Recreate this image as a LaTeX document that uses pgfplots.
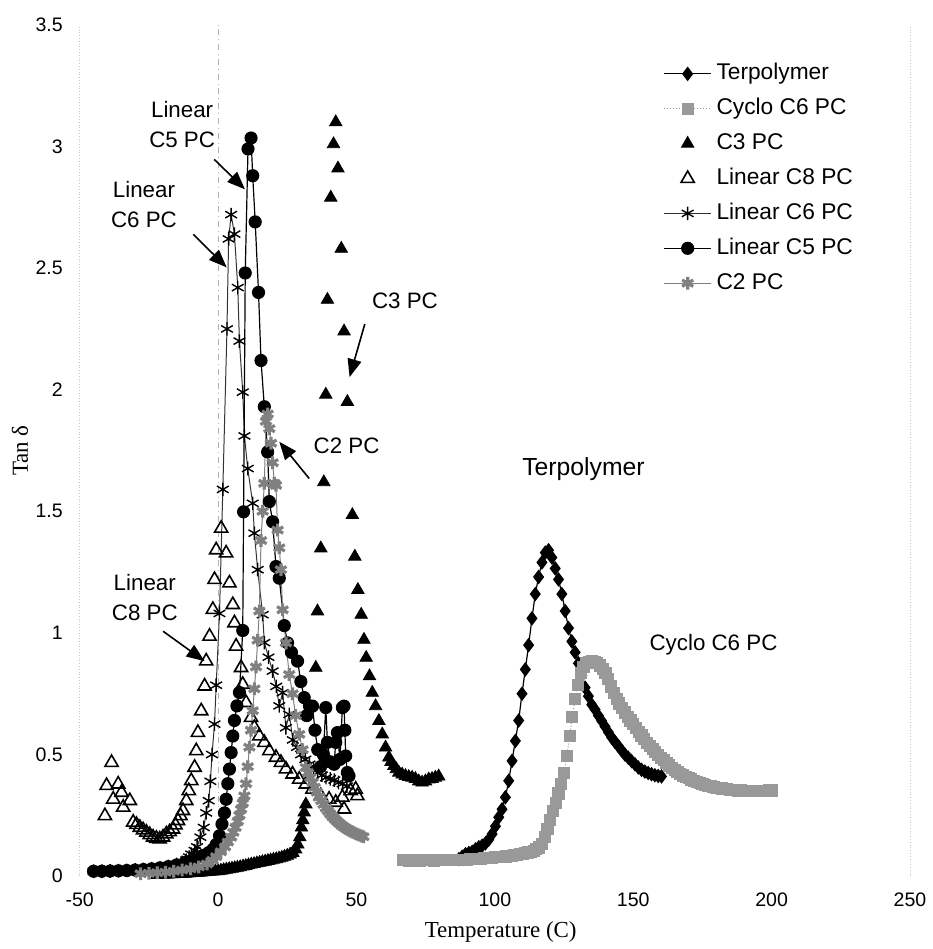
\documentclass[border=0pt]{standalone}
\usepackage{fontspec}
\setmainfont{Liberation Sans}
\newfontfamily\timesfont{Liberation Serif}
\usepackage{pgfplots}
\pgfplotsset{compat=1.18}
\usetikzlibrary{arrows.meta}

\newcommand\annfont{\fontsize{11.2}{15}\selectfont}

\begin{document}
\begin{tikzpicture}
\begin{axis}[
    scale only axis,
    width=416.5pt, height=427pt,
    xmin=-50, xmax=250, ymin=0, ymax=3.5,
    xtick={-50,0,...,250},
    ytick={0,0.5,...,3.5},
    axis line style={draw=none},
    tick style={draw=none},
    clip=false,
    /pgf/number format/assume math mode=true,
    tick label style={font=\fontsize{9.8}{11}\selectfont},
    yticklabel style={xshift=-5pt},
    xticklabel style={yshift=-5pt},
    legend image code/.code={\draw[mark repeat=2,mark phase=2,#1] plot coordinates {(0cm,0cm) (0.41cm,0cm) (0.82cm,0cm)};},
    legend cell align=left,
    legend style={at={(axis description cs:0.703,0.957)}, anchor=north west,
        draw=none, fill=none, inner sep=0pt, row sep=5.5pt,
        font=\fontsize{11.4}{13}\selectfont,
        nodes={inner xsep=2.5pt, inner ysep=0pt, text height=9pt, text depth=3pt}},
]

% frame and zero line
\draw[gray!45, densely dotted] (axis cs:-50,0) -- (axis cs:-50,3.5);
\draw[gray!45, densely dotted] (axis cs:250,0) -- (axis cs:250,3.5);
\draw[gray!60, dash dot, line width=0.5pt] (axis cs:0,0) -- (axis cs:0,3.5);

% Terpolymer
\addplot[black, line width=0.6pt, mark=diamond*, mark size=3.2pt, mark options={solid, fill=black}] coordinates {
(87.0,0.070)(88.2,0.080)(89.4,0.090)(90.6,0.095)(91.8,0.100)(93.0,0.110)(94.2,0.119)(95.4,0.125)
(96.6,0.135)(97.8,0.150)(99.0,0.173)(100.2,0.205)(101.4,0.242)(102.6,0.275)(103.8,0.324)(105.0,0.392)
(106.2,0.474)(107.4,0.556)(108.6,0.640)(109.8,0.750)(111.0,0.850)(112.2,0.950)(113.4,1.060)(114.6,1.160)
(115.8,1.230)(117.0,1.290)(118.2,1.330)(119.4,1.340)(120.6,1.310)(121.8,1.265)(123.0,1.220)(124.2,1.160)
(125.4,1.090)(126.6,1.020)(127.8,0.965)(129.0,0.920)(130.2,0.875)(131.4,0.825)(132.6,0.775)(133.8,0.740)
(135.0,0.705)(136.2,0.685)(137.4,0.660)(138.6,0.638)(139.8,0.615)(141.0,0.592)(142.2,0.570)(143.4,0.552)
(144.6,0.535)(145.8,0.517)(147.0,0.500)(148.2,0.487)(149.4,0.473)(150.6,0.460)(151.8,0.447)(153.0,0.437)
(154.2,0.430)(155.4,0.424)(156.6,0.419)(157.8,0.415)(159.0,0.412)(160.2,0.410)
};

% Cyclo C6 PC
\addplot[black!40, densely dotted, line width=0.5pt, mark=square*, mark size=2.8pt, mark options={solid, fill=black!40, draw=black!40}] coordinates {
(67,0.065)(68,0.066)(69,0.064)(70,0.065)(71,0.066)(72,0.065)(73,0.064)(74,0.065)(75,0.066)(76,0.065)
(77,0.065)(78,0.064)(79,0.065)(80,0.066)(81,0.065)(82,0.065)(83,0.066)(84,0.065)(85,0.066)(86,0.066)
(87,0.067)(88,0.067)(89,0.068)(90,0.068)(91,0.069)(92,0.070)(93,0.070)(94,0.071)(95,0.072)(96,0.073)
(97,0.074)(98,0.075)(99,0.076)(100,0.077)(101,0.078)(102,0.079)(103,0.080)(104,0.081)(105,0.083)(106,0.084)
(107,0.086)(108,0.088)(109,0.090)(110,0.092)(111,0.094)(112,0.097)(113,0.100)(114,0.104)(115,0.110)(116,0.118)
(117,0.132)(118,0.160)(119,0.195)(120,0.232)(121,0.268)(122,0.302)(123,0.340)(124,0.378)(125,0.425)(126,0.495)
(127,0.575)(128,0.655)(129,0.730)(130,0.785)(131,0.835)(132,0.860)(133,0.875)(134,0.882)(135,0.885)(136,0.882)
(137,0.876)(138,0.866)(139,0.852)(140,0.835)(141,0.810)(142,0.780)(143,0.752)(144,0.730)(145,0.710)(146,0.690)
(147,0.673)(148,0.656)(149,0.640)(150,0.625)(151,0.610)(152,0.594)(153,0.578)(154,0.563)(155,0.548)(156,0.535)
(157,0.522)(158,0.510)(159,0.498)(160,0.487)(161,0.476)(162,0.465)(163,0.455)(164,0.446)(165,0.437)(166,0.429)
(167,0.421)(168,0.414)(169,0.408)(170,0.402)(171,0.397)(172,0.392)(173,0.387)(174,0.383)(175,0.379)(176,0.375)
(177,0.372)(178,0.369)(179,0.366)(180,0.364)(181,0.362)(182,0.360)(183,0.358)(184,0.357)(185,0.355)(186,0.354)
(187,0.353)(188,0.352)(189,0.352)(190,0.351)(191,0.351)(192,0.350)(193,0.350)(194,0.350)(195,0.351)(196,0.351)
(197,0.351)(198,0.351)(199,0.352)(200,0.352)
};

% C3 PC
\addplot[only marks, black, mark=triangle*, mark size=3.6pt] coordinates {
(-22,0.005)(-21,0.006)(-20,0.006)(-19,0.007)(-18,0.007)(-17,0.008)(-16,0.008)(-15,0.009)(-14,0.009)(-13,0.010)
(-12,0.010)(-11,0.011)(-10,0.012)(-9,0.013)(-8,0.013)(-7,0.014)(-6,0.015)(-5,0.016)(-4,0.017)(-3,0.018)
(-2,0.019)(-1,0.020)(0,0.021)(1,0.023)(2,0.025)(3,0.027)(4,0.029)(5,0.031)(6,0.033)(7,0.035)
(8,0.037)(9,0.040)(10,0.042)(11,0.045)(12,0.048)(13,0.050)(14,0.053)(15,0.055)(16,0.058)(17,0.060)
(18,0.063)(19,0.065)(20,0.068)(21,0.070)(22,0.073)(23,0.076)(24,0.080)(25,0.084)(26,0.089)(27,0.096)
(28,0.110)(28.8,0.130)(29.5,0.160)(30.1,0.200)(30.6,0.230)(31.1,0.262)(31.7,0.295)
(35.3,0.857)(35.9,1.089)(37.1,1.348)(38.2,1.620)(38.9,1.980)(39.5,2.370)(40.7,2.790)(41.7,3.010)
(42.5,3.100)(43.3,2.910)(44.5,2.580)(45.5,2.240)(46.7,1.950)(48.5,1.485)(49.4,1.314)(50.5,1.177)
(51.7,1.075)(52.7,0.972)(53.5,0.898)(54.7,0.822)(55.7,0.754)(56.9,0.699)(58.1,0.638)(59.3,0.583)
(60.5,0.529)(61.7,0.488)(62.5,0.470)(63.5,0.453)(64.4,0.440)(65.3,0.426)(66.5,0.418)(67.7,0.412)
(68.9,0.408)(70.1,0.405)(71.3,0.400)(72.5,0.390)(73.7,0.385)(74.9,0.390)(76.1,0.398)(77.3,0.400)
(78.5,0.405)(79.7,0.410)
};

% Linear C8 PC
\addplot[only marks, black, mark=triangle, mark size=3.8pt, mark options={line width=0.8pt}] coordinates {
(-40.9,0.248)(-40.3,0.372)(-38.5,0.467)(-37.9,0.316)(-36.1,0.378)(-34.9,0.344)(-34.3,0.283)(-31.9,0.310)
(-30.7,0.221)(-29.5,0.212)(-28.3,0.200)(-27.1,0.190)(-25.9,0.180)(-24.7,0.170)(-23.5,0.160)(-22.3,0.155)
(-21.1,0.152)(-19.9,0.160)(-18.7,0.173)(-17.5,0.182)(-16.3,0.193)(-15.4,0.210)(-14.5,0.228)(-13.6,0.248)
(-12.7,0.269)(-11.5,0.310)(-10.6,0.351)(-9.7,0.392)(-8.5,0.447)(-7.9,0.515)(-7.3,0.590)(-6.1,0.679)
(-4.9,0.781)(-4.3,0.884)(-3.1,0.986)(-1.9,1.096)(-1.3,1.219)(-0.7,1.341)(1.1,1.430)(2.9,1.328)
(4.1,1.205)(5.3,1.116)(5.9,1.041)(6.5,0.945)(8.3,0.857)(8.9,0.788)(10.1,0.713)(11.9,0.652)
(13.1,0.611)(14.9,0.576)(16.7,0.549)(18.5,0.515)(20.9,0.488)(22.7,0.467)(24.5,0.440)(26.9,0.419)
(29.3,0.398)(31.7,0.378)(34.1,0.357)(37.1,0.330)(40.1,0.316)(42.5,0.303)(45.5,0.275)(44.9,0.324)
(47.9,0.351)(49.7,0.357)(50.3,0.330)
};

% Linear C6 PC
\addplot[black!80, line width=0.5pt, mark=asterisk, mark size=3.4pt, mark options={solid, black, line width=0.7pt}] coordinates {
(-45,0.020)(-42,0.020)(-39,0.021)(-36,0.022)(-33,0.024)(-30,0.026)(-27,0.028)(-24,0.031)(-21,0.035)
(-18,0.040)(-15,0.048)(-13,0.056)(-11.5,0.066)(-10.5,0.078)(-9.7,0.090)(-8.5,0.105)(-7.6,0.120)
(-6.4,0.160)(-5.2,0.200)(-4.3,0.260)(-3.4,0.310)(-2.8,0.390)(-2.2,0.500)(-1.3,0.625)(-0.7,0.785)
(0.5,1.080)(1.7,1.590)(3.2,2.250)(3.8,2.620)(4.7,2.720)(5.9,2.640)(7.1,2.420)(7.7,2.200)(8.9,1.990)
(9.5,1.810)(10.7,1.676)(12.5,1.533)(13.1,1.410)(14.3,1.260)(16.1,1.075)(16.7,0.960)(18.2,0.900)
(19.7,0.843)(21.0,0.780)(22.1,0.700)(23.3,0.754)(24.5,0.610)(25.7,0.665)(27.0,0.560)(28.5,0.530)
(30.0,0.500)(31.5,0.480)(33.0,0.460)(34.5,0.440)(36.0,0.425)(37.5,0.415)(39.0,0.405)(40.5,0.400)
(42.0,0.395)(43.5,0.385)(45.0,0.380)(46.5,0.370)
};

% Linear C5 PC
\addplot[black, line width=0.6pt, mark=*, mark size=3pt, mark options={solid}] coordinates {
(-45,0.020)(-42,0.020)(-39,0.021)(-36,0.022)(-33,0.023)(-30,0.025)(-27,0.027)(-24,0.030)(-21,0.034)
(-18,0.039)(-15,0.046)(-12,0.056)(-9,0.068)(-6,0.082)(-3.5,0.096)(-1.9,0.110)(-0.7,0.130)(0.5,0.166)
(1.4,0.214)(2.3,0.260)(2.9,0.316)(3.5,0.380)(4.1,0.440)(4.7,0.508)(5.3,0.576)(5.9,0.640)(6.8,0.700)
(7.7,0.755)(8.9,1.010)(9.2,1.498)(9.8,2.480)(10.8,2.990)(11.9,3.035)(12.5,2.880)(13.4,2.690)
(14.6,2.400)(15.5,2.120)(16.7,1.930)(17.9,1.744)(18.5,1.540)(19.7,1.457)(20.9,1.273)(22.1,1.225)
(23.9,1.030)(25.1,0.959)(26.5,0.920)(28.7,0.884)(29.9,0.800)(31.1,0.734)(32.0,0.660)(33.0,0.700)
(34.1,0.699)(35.0,0.600)(36.0,0.520)(37.0,0.450)(38.0,0.500)(38.9,0.693)(39.5,0.550)(40.5,0.470)
(41.9,0.460)(42.5,0.550)(43.1,0.590)(44.0,0.480)(44.9,0.693)(45.5,0.699)(45.8,0.600)(46.1,0.494)
(46.7,0.426)(47.3,0.412)
};

% C2 PC
\addplot[black!50, line width=0.5pt, mark=asterisk, mark size=3.2pt, mark options={solid, line width=1.6pt, black!50}] coordinates {
(-28,0.010)(-25,0.012)(-22,0.014)(-19,0.016)(-16,0.020)(-13,0.025)(-10,0.030)(-7,0.038)(-4,0.050)
(-2,0.065)(-0.7,0.080)(1.0,0.100)(2.5,0.120)(3.5,0.140)(4.7,0.160)(5.5,0.180)(6.3,0.200)(7.1,0.225)
(7.7,0.250)(8.3,0.275)(8.9,0.300)(9.5,0.330)(10.1,0.380)(10.7,0.450)(11.3,0.530)(11.9,0.600)
(12.5,0.680)(13.1,0.770)(13.7,0.860)(14.3,0.970)(14.9,1.090)(15.5,1.380)(16.1,1.500)(16.7,1.615)
(17.3,1.870)(17.9,1.900)(18.5,1.840)(19.1,1.780)(19.7,1.700)(20.3,1.615)(20.9,1.607)(21.5,1.423)
(22.1,1.350)(22.7,1.260)(23.3,1.095)(24.5,0.959)(25.7,0.829)(26.9,0.750)(28.0,0.660)(29.3,0.583)
(30.5,0.520)(31.7,0.447)(32.5,0.425)(33.3,0.405)(34.1,0.385)(34.9,0.365)(35.7,0.345)(36.5,0.325)
(37.3,0.310)(38.1,0.295)(38.9,0.280)(39.7,0.268)(40.5,0.256)(41.3,0.245)(42.1,0.235)(42.9,0.226)
(43.7,0.218)(44.5,0.210)(45.3,0.203)(46.1,0.197)(46.9,0.191)(47.7,0.186)(48.5,0.181)(49.3,0.177)
(50.1,0.173)(50.9,0.169)(51.7,0.165)(52.5,0.162)
};

\legend{Terpolymer, Cyclo C6 PC, C3 PC, Linear C8 PC, Linear C6 PC, Linear C5 PC, C2 PC}

% annotations
\node[font=\annfont, align=center] at (axis cs:-13.0,3.09) {Linear\\C5 PC};
\node[font=\annfont, align=center] at (axis cs:-26.8,2.76) {Linear\\C6 PC};
\node[font=\annfont, align=center] at (axis cs:-26.5,1.145) {Linear\\C8 PC};
\node[font=\annfont, anchor=base] at (axis cs:67.5,2.332) {C3 PC};
\node[font=\annfont, anchor=base] at (axis cs:46.4,1.738) {C2 PC};
\node[font=\fontsize{12.4}{14}\selectfont, anchor=base] at (axis cs:132.0,1.648) {Terpolymer};
\node[font=\annfont, anchor=base] at (axis cs:179.0,0.926) {Cyclo C6 PC};

\draw[-{Triangle[length=9pt,width=7pt]}, line width=0.8pt] (axis cs:-1.4,2.947) -- (axis cs:9.7,2.824);
\draw[-{Triangle[length=9pt,width=7pt]}, line width=0.8pt] (axis cs:-9.0,2.639) -- (axis cs:3.1,2.503);
\draw[-{Triangle[length=9pt,width=7pt]}, line width=0.8pt] (axis cs:53.0,2.270) -- (axis cs:47.5,2.052);
\draw[-{Triangle[length=9pt,width=7pt]}, line width=0.8pt] (axis cs:32.9,1.635) -- (axis cs:22.1,1.786);
\draw[-{Triangle[length=9pt,width=7pt]}, line width=0.8pt] (axis cs:-19.9,1.007) -- (axis cs:-4.9,0.884);

% axis titles
\node[font=\fontsize{11.5}{13}\selectfont\timesfont, rotate=90] at (axis description cs:-0.072,0.5) {Tan δ};
\node[font=\fontsize{11.5}{13}\selectfont\timesfont] at (axis description cs:0.507,-0.0656) {Temperature (C)};
\end{axis}
\path (current axis.south west) ++(-40pt,-35pt) rectangle ++(465.5pt,474.5pt);
\end{tikzpicture}
\end{document}
